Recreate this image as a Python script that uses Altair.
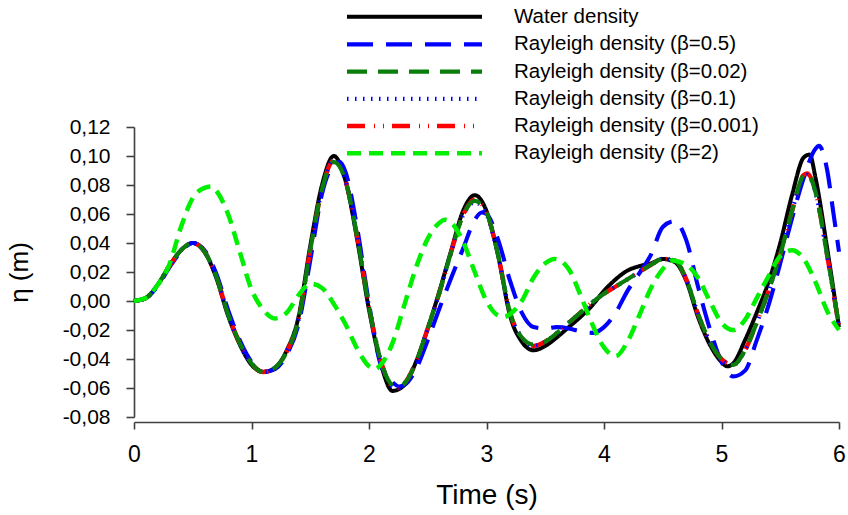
import altair as alt
import pandas as pd

series_names = [
    "Water density",
    "\u00a0Rayleigh density (β=0.5)",
    "Rayleigh density (β=0.02)",
    "Rayleigh density (β=0.1)",
    "Rayleigh density (β=0.001)",
    "Rayleigh density (β=2)",
]
series_colors = ["#000000", "#0000ff", "#0a7d0a", "#0000ff", "#ff0000", "#00f000"]
series_dashes = [[1, 0], [26, 13], [20, 11], [1.5, 6.5], [18, 9, 1, 8, 1, 8], [14, 8]]
series_widths = [4, 4.5, 4.5, 1.3, 4.5, 4.5]

x_ticks = [0, 1, 2, 3, 4, 5, 6]
y_ticks = [-0.08, -0.06, -0.04, -0.02, 0.0, 0.02, 0.04, 0.06, 0.08, 0.10, 0.12]

# Water density
t_water = [0.0, 0.1, 0.2, 0.3, 0.4, 0.5, 0.6, 0.7, 0.8, 0.9,
           1.0, 1.1, 1.2, 1.3, 1.4, 1.5, 1.6, 1.7, 1.8, 1.9,
           2.0, 2.1, 2.2, 2.3, 2.4, 2.5, 2.6, 2.7, 2.8, 2.9,
           3.0, 3.1, 3.2, 3.3, 3.4, 3.5, 3.6, 3.7, 3.8, 3.9,
           4.0, 4.1, 4.2, 4.3, 4.4, 4.5, 4.6, 4.7, 4.8, 4.9,
           5.0, 5.05, 5.1, 5.2, 5.3, 5.4, 5.5, 5.6, 5.7, 5.75, 5.8, 5.9, 6.0]
eta_water = [0.0, 0.002, 0.011, 0.024, 0.035, 0.040, 0.034, 0.016, -0.010, -0.030,
             -0.044, -0.049, -0.046, -0.034, -0.011, 0.038, 0.080, 0.100, 0.083, 0.042,
             -0.006, -0.043, -0.062, -0.058, -0.042, -0.019, 0.007, 0.035, 0.062, 0.073,
             0.062, 0.031, -0.010, -0.028, -0.034, -0.031, -0.025, -0.018, -0.011, -0.003,
             0.007, 0.015, 0.021, 0.024, 0.026, 0.029, 0.027, 0.014, -0.011, -0.030,
             -0.042, -0.045, -0.043, -0.027, -0.008, 0.013, 0.040, 0.073, 0.099, 0.101, 0.085, 0.036, -0.018]

# Rayleigh beta = 0.5
t_b05 = [0.0, 0.1, 0.2, 0.3, 0.4, 0.5, 0.6, 0.7, 0.8, 0.9,
         1.0, 1.1, 1.2, 1.3, 1.4, 1.5, 1.6, 1.7, 1.75, 1.8, 1.9,
         2.0, 2.1, 2.2, 2.26, 2.3, 2.4, 2.5, 2.6, 2.7, 2.8, 2.9, 2.96,
         3.0, 3.1, 3.2, 3.3, 3.4, 3.5, 3.6, 3.7, 3.8, 3.9,
         4.0, 4.1, 4.2, 4.3, 4.4, 4.5, 4.6, 4.7, 4.8, 4.9,
         5.0, 5.1, 5.2, 5.3, 5.4, 5.5, 5.6, 5.7, 5.8, 5.83, 5.9, 5.95, 6.0]
eta_b05 = [0.0, 0.002, 0.010, 0.023, 0.034, 0.040, 0.035, 0.019, -0.006, -0.027,
           -0.042, -0.049, -0.047, -0.037, -0.016, 0.028, 0.074, 0.094, 0.096, 0.089, 0.050,
           -0.002, -0.044, -0.056, -0.059, -0.058, -0.047, -0.027, -0.005, 0.016, 0.036, 0.056, 0.061,
           0.060, 0.042, 0.014, -0.008, -0.018, -0.019, -0.018, -0.019, -0.021, -0.022,
           -0.018, -0.008, 0.007, 0.019, 0.032, 0.051, 0.055, 0.042, 0.010, -0.019,
           -0.042, -0.052, -0.048, -0.027, -0.003, 0.026, 0.057, 0.085, 0.105, 0.107, 0.090, 0.062, 0.034]

# Rayleigh beta = 0.02
t_b002 = [0.0, 0.1, 0.2, 0.3, 0.4, 0.5, 0.6, 0.7, 0.8, 0.9,
          1.0, 1.1, 1.2, 1.3, 1.4, 1.5, 1.6, 1.7, 1.8, 1.9,
          2.0, 2.1, 2.2, 2.25, 2.3, 2.4, 2.5, 2.6, 2.7, 2.8, 2.9,
          3.0, 3.1, 3.2, 3.3, 3.4, 3.5, 3.6, 3.7, 3.8, 3.9,
          4.0, 4.1, 4.2, 4.3, 4.4, 4.5, 4.6, 4.7, 4.8, 4.9,
          5.0, 5.1, 5.2, 5.3, 5.4, 5.5, 5.6, 5.7, 5.73, 5.8, 5.9, 6.0]
eta_b002 = [0.0, 0.002, 0.011, 0.024, 0.035, 0.040, 0.034, 0.017, -0.009, -0.029,
            -0.043, -0.049, -0.046, -0.035, -0.013, 0.035, 0.077, 0.096, 0.083, 0.044,
            -0.004, -0.041, -0.058, -0.059, -0.057, -0.042, -0.019, 0.006, 0.034, 0.059, 0.069,
            0.061, 0.031, -0.008, -0.025, -0.030, -0.028, -0.022, -0.015, -0.008, -0.001,
            0.005, 0.010, 0.015, 0.020, 0.025, 0.029, 0.028, 0.015, -0.009, -0.028,
            -0.040, -0.044, -0.034, -0.015, 0.007, 0.032, 0.062, 0.087, 0.088, 0.075, 0.031, -0.017]

# Rayleigh beta = 0.1
t_b01 = [0.0, 0.1, 0.2, 0.3, 0.4, 0.5, 0.6, 0.7, 0.8, 0.9,
         1.0, 1.1, 1.2, 1.3, 1.4, 1.5, 1.6, 1.7, 1.8, 1.9,
         2.0, 2.1, 2.2, 2.25, 2.3, 2.4, 2.5, 2.6, 2.7, 2.8, 2.9,
         3.0, 3.1, 3.2, 3.3, 3.4, 3.5, 3.6, 3.7, 3.8, 3.9,
         4.0, 4.1, 4.2, 4.3, 4.4, 4.5, 4.6, 4.7, 4.8, 4.9,
         5.0, 5.1, 5.2, 5.3, 5.4, 5.5, 5.6, 5.7, 5.73, 5.8, 5.9, 6.0]
eta_b01 = [0.0, 0.002, 0.011, 0.024, 0.035, 0.040, 0.034, 0.017, -0.009, -0.029,
           -0.043, -0.049, -0.046, -0.035, -0.013, 0.035, 0.077, 0.097, 0.083, 0.044,
           -0.004, -0.041, -0.059, -0.060, -0.057, -0.042, -0.019, 0.006, 0.034, 0.059, 0.068,
           0.060, 0.031, -0.008, -0.025, -0.031, -0.028, -0.022, -0.015, -0.008, -0.001,
           0.005, 0.010, 0.015, 0.020, 0.025, 0.029, 0.028, 0.015, -0.009, -0.028,
           -0.040, -0.044, -0.034, -0.015, 0.007, 0.032, 0.062, 0.086, 0.087, 0.075, 0.031, -0.018]

# Rayleigh beta = 0.001
t_b0001 = [0.0, 0.1, 0.2, 0.3, 0.4, 0.5, 0.6, 0.7, 0.8, 0.9,
           1.0, 1.1, 1.2, 1.3, 1.4, 1.5, 1.6, 1.7, 1.8, 1.9,
           2.0, 2.1, 2.2, 2.25, 2.3, 2.4, 2.5, 2.6, 2.7, 2.8, 2.9,
           3.0, 3.1, 3.2, 3.3, 3.4, 3.5, 3.6, 3.7, 3.8, 3.9,
           4.0, 4.1, 4.2, 4.3, 4.4, 4.5, 4.6, 4.7, 4.8, 4.9,
           5.0, 5.1, 5.2, 5.3, 5.4, 5.5, 5.6, 5.7, 5.73, 5.8, 5.9, 6.0]
eta_b0001 = [0.0, 0.002, 0.011, 0.024, 0.035, 0.040, 0.034, 0.017, -0.009, -0.029,
             -0.043, -0.049, -0.046, -0.035, -0.013, 0.035, 0.077, 0.097, 0.083, 0.044,
             -0.004, -0.041, -0.059, -0.060, -0.057, -0.042, -0.019, 0.006, 0.034, 0.059, 0.070,
             0.061, 0.031, -0.008, -0.025, -0.031, -0.028, -0.022, -0.015, -0.008, -0.001,
             0.005, 0.010, 0.015, 0.020, 0.025, 0.029, 0.028, 0.015, -0.009, -0.028,
             -0.040, -0.044, -0.034, -0.015, 0.007, 0.032, 0.062, 0.087, 0.088, 0.075, 0.031, -0.018]

# Rayleigh beta = 2
t_b2 = [0.0, 0.1, 0.2, 0.3, 0.4, 0.5, 0.6, 0.66, 0.7, 0.8, 0.9,
        1.0, 1.1, 1.2, 1.3, 1.4, 1.5, 1.6, 1.7, 1.8, 1.9,
        2.0, 2.05, 2.1, 2.2, 2.3, 2.4, 2.5, 2.6, 2.65, 2.7, 2.8, 2.9,
        3.0, 3.1, 3.15, 3.2, 3.3, 3.4, 3.5, 3.58, 3.7, 3.8, 3.9,
        4.0, 4.1, 4.2, 4.3, 4.4, 4.5, 4.58, 4.7, 4.8, 4.9,
        5.0, 5.1, 5.2, 5.3, 5.4, 5.5, 5.6, 5.7, 5.8, 5.9, 6.0]
eta_b2 = [0.0, 0.002, 0.011, 0.025, 0.051, 0.071, 0.078, 0.079, 0.076, 0.060, 0.034,
          0.008, -0.006, -0.012, -0.008, 0.004, 0.012, 0.009, -0.002, -0.016, -0.033,
          -0.045, -0.047, -0.044, -0.029, -0.003, 0.023, 0.043, 0.054, 0.056, 0.054, 0.041, 0.020,
          0.000, -0.010, -0.011, -0.009, 0.000, 0.016, 0.026, 0.029, 0.022, 0.004, -0.016,
          -0.032, -0.038, -0.028, -0.010, 0.009, 0.022, 0.028, 0.025, 0.016, 0.000,
          -0.015, -0.020, -0.013, 0.002, 0.017, 0.031, 0.035, 0.029, 0.013, -0.007, -0.020]

# drawing order (bottom to top)
draw_order = [
    (series_names[0], t_water, eta_water),
    (series_names[1], t_b05, eta_b05),
    (series_names[4], t_b0001, eta_b0001),
    (series_names[3], t_b01, eta_b01),
    (series_names[2], t_b002, eta_b002),
    (series_names[5], t_b2, eta_b2),
]

rows = []
for k, (name, ts, vs) in enumerate(draw_order):
    for t, v in zip(ts, vs):
        rows.append({"series": name, "t": t, "eta": v, "layer": k})
df = pd.DataFrame(rows)

# Legend: long horizontal stroke symbols (custom path scaled by symbolSize)
legend = alt.Legend(
    orient="none", legendX=268, legendY=-122.3, title=None,
    symbolType="M-6.75,0H6.75", symbolSize=400, symbolFillColor="transparent",
    labelFontSize=20.5, labelFont="Liberation Sans", labelOffset=87,
    rowPadding=4.2, padding=0, labelColor="#000000", labelLimit=400,
)

y_label_expr = "(datum.value < 0 ? '-' : '') + replace(format(abs(datum.value), '.2f'), '.', ',')"

chart = alt.Chart(df).mark_line(interpolate="monotone").encode(
    x=alt.X("t:Q", scale=alt.Scale(domain=[0, 6], nice=False, zero=False),
            axis=alt.Axis(values=x_ticks, format="d", title="Time (s)",
                          labelFontSize=23, titleFontSize=28, tickSize=7, offset=5,
                          labelPadding=14, titlePadding=15, grid=False, labelFlush=False)),
    y=alt.Y("eta:Q", scale=alt.Scale(domain=[-0.08, 0.12], nice=False, zero=False),
            axis=alt.Axis(values=y_ticks, labelExpr=y_label_expr, title="η (m)",
                          labelFontSize=21, titleFontSize=26, tickSize=8,
                          labelPadding=16, titlePadding=30, grid=False, labelFlush=False)),
    color=alt.Color("series:N", scale=alt.Scale(domain=series_names, range=series_colors), legend=legend),
    strokeDash=alt.StrokeDash("series:N", scale=alt.Scale(domain=series_names, range=series_dashes), legend=legend),
    strokeWidth=alt.StrokeWidth("series:N", scale=alt.Scale(domain=series_names, range=series_widths), legend=legend),
    order=alt.Order("layer:Q"),
).properties(
    width=705, height=290,
    padding={"left": 134, "top": 127, "right": 9, "bottom": 98},
    autosize=alt.AutoSizeParams(type="none"),
).configure_view(stroke=None).configure_axis(
    domainColor="#404040", tickColor="#404040", domainWidth=1.6, tickWidth=1.6,
    labelColor="#000000", titleColor="#000000", labelFont="Liberation Sans",
    titleFont="Liberation Sans", titleFontWeight="normal",
)

chart.save("out.html", embed_options={"renderer": "svg", "actions": False})
